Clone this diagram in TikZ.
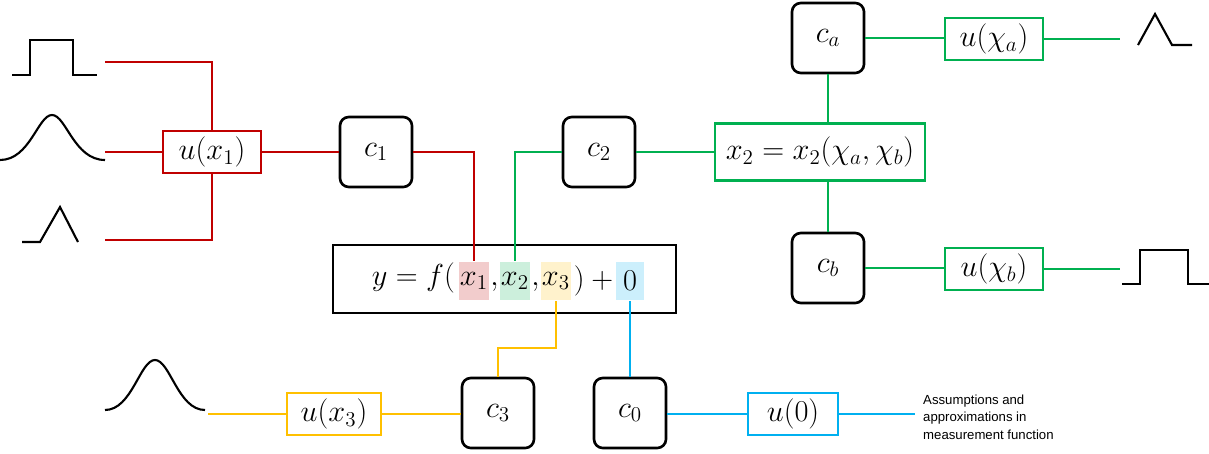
\documentclass[tikz,border=0pt]{standalone}
\usepackage{fontspec}
\usetikzlibrary{calc}
\newfontfamily\notefont{Liberation Sans}
\begin{document}
\begin{tikzpicture}[x=0.02cm,y=-0.02cm,line width=1.4pt,
  cbox/.style={draw=black,rounded corners=5pt,minimum width=72*0.02cm,minimum height=70*0.02cm,inner sep=0pt,font=\LARGE,line width=1.5pt},
  ubox/.style={draw,minimum height=42*0.02cm,inner sep=0pt,font=\LARGE,line width=1.5pt},
  hl/.style={inner sep=0pt,minimum height=38*0.02cm,font=\LARGE},
  eqt/.style={font=\LARGE,inner sep=0pt},
  wave/.style={black,line width=1.2pt}]
\definecolor{cr}{HTML}{C00000}\definecolor{cg}{HTML}{00B050}
\definecolor{cy}{HTML}{FFC000}\definecolor{cb}{HTML}{00B0F0}
\useasboundingbox (0,0) rectangle (1209,453);
% waves
\draw[wave] (12,75)--(30,75)--(30,40)--(73,40)--(73,75)--(97,75);
\draw[wave] (0,160) .. controls (30,160) and (38,115) .. (52,115) .. controls (66,115) and (74,160) .. (105,160);
\draw[wave] (22,242)--(40,242)--(60,207)--(78,242);
\draw[wave] (1138,45)--(1155,14)--(1172,45)--(1192,45);
\draw[wave] (1122,284)--(1140,284)--(1140,250)--(1188,250)--(1188,284)--(1210,284);
\draw[wave] (105,410) .. controls (132,410) and (140,360) .. (155,360) .. controls (170,360) and (178,410) .. (205,410);
% boxes
\node[ubox,draw=cr,minimum width=98*0.02cm] (ux1) at (212,152) {$u(x_1)$};
\node[cbox] (c1) at (376,152) {$c_1$};
\node[cbox] (c2) at (599,152) {$c_2$};
\node[ubox,draw=cg,minimum width=210*0.02cm,minimum height=57*0.02cm] (x2b) at (820,152) {$x_2=x_2(\chi_a,\chi_b)$};
\node[cbox] (ca) at (828,38) {$c_a$};
\node[cbox] (cbn) at (828,268) {$c_b$};
\node[ubox,draw=cg,minimum width=98*0.02cm] (ua) at (994,39) {$u(\chi_a)$};
\node[ubox,draw=cg,minimum width=98*0.02cm] (ub) at (994,269) {$u(\chi_b)$};
\node[draw,line width=1.5pt,minimum width=343*0.02cm,minimum height=68*0.02cm] (eq) at (504.5,279) {};
\node[cbox] (c3) at (498,413) {$c_3$};
\node[cbox] (c0) at (630,413) {$c_0$};
\node[ubox,draw=cy,minimum width=94*0.02cm] (ux3) at (334,414) {$u(x_3)$};
\node[ubox,draw=cb,minimum width=90*0.02cm] (u0) at (793,414) {$u(0)$};
\node[font=\notefont\fontsize{7.5}{10}\selectfont,align=left,anchor=west,inner sep=0pt] (note) at (922,417) {Assumptions and\\approximations in\\measurement function};
% equation
\node[hl,fill=cr!20,minimum width=30*0.02cm] (hx1) at (474,281) {$x_1$};
\node[hl,fill=cg!20,minimum width=30*0.02cm] (hx2) at (515,281) {$x_2$};
\node[hl,fill=cy!20,minimum width=30*0.02cm] (hx3) at (556,281) {$x_3$};
\node[hl,fill=cb!20,minimum width=28*0.02cm] (h0) at (630,281) {$0$};
\node[eqt,anchor=base east] (e1) at ([xshift=-1pt]hx1.base west) {$y=f($};
\node[eqt,anchor=base] (cm1) at ($(hx1.base east)!0.5!(hx2.base west)$) {$,$};
\node[eqt,anchor=base] (cm2) at ($(hx2.base east)!0.5!(hx3.base west)$) {$,$};
\node[eqt,anchor=base] (pl) at ($(hx3.base east)!0.5!(h0.base west)$) {$)\mskip4mu+$};
% red
\coordinate (r1) at (105,62); \coordinate (r2) at (105,152); \coordinate (r3) at (105,240);
\draw[cr] (r1) -| (ux1.north); \draw[cr] (r2) -- (ux1.west); \draw[cr] (r3) -| (ux1.south);
\draw[cr] (ux1.east) -- (c1.west);
\draw[cr] (c1.east) -| (hx1.north);
% green
\draw[cg] (c2.west) -| (hx2.north);
\draw[cg] (c2.east) -- (x2b.west);
\draw[cg] (ca.south) -- (ca.south |- x2b.north);
\draw[cg] (cbn.north) -- (cbn.north |- x2b.south);
\draw[cg] (ca.east) -- (ca.east -| ua.west);
\draw[cg] (cbn.east) -- (cbn.east -| ub.west);
\coordinate (ga) at (1120,39); \coordinate (gb) at (1120,269);
\draw[cg] (ua.east) -- (ga); \draw[cg] (ub.east) -- (gb);
% yellow
\draw[cy] (hx3.south) -- (556,348) -| (c3.north);
\coordinate (ye) at (208,414);
\draw[cy] (c3.west |- ux3.east) -- (ux3.east); \draw[cy] (ux3.west) -- (ye);
% blue
\draw[cb] (h0.south) -- (c0.north);
\draw[cb] (c0.east |- u0.west) -- (u0.west);
\coordinate (be) at (915,414);
\draw[cb] (u0.east) -- (be);
\end{tikzpicture}
\end{document}
